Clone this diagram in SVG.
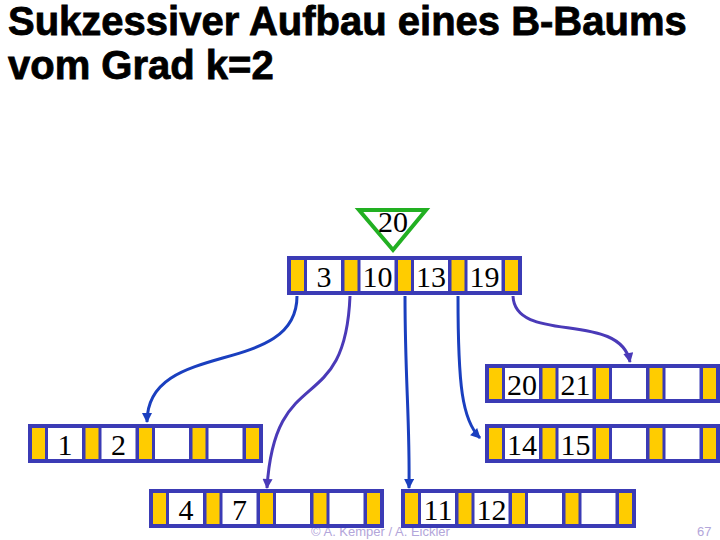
<svg xmlns="http://www.w3.org/2000/svg" width="720" height="540" viewBox="0 0 720 540">
<style>
.frame{fill:#3b3bb5}
.slot{fill:#ffcc00}
.box{fill:#ffffff}
.key{font-family:"Liberation Serif","Times New Roman",serif;font-size:30px;fill:#000;text-anchor:middle}
.title{font-family:"Liberation Sans",Arial,sans-serif;font-weight:bold;font-size:40px;fill:#000;stroke:#000;stroke-width:0.8}
.foot{font-family:"Liberation Sans",Arial,sans-serif;font-size:13px;fill:#b3a6da}
.c1{fill:none;stroke:#1a3fbf;stroke-width:3}
.c2{fill:none;stroke:#4a3ab8;stroke-width:3}
</style>
<defs>
<marker id="ah1" viewBox="0 0 10 10" refX="9" refY="5" markerWidth="11" markerHeight="10" markerUnits="userSpaceOnUse" orient="auto"><path d="M0,0 L10,5 L0,10 z" fill="#1a3fbf"/></marker>
<marker id="ah2" viewBox="0 0 10 10" refX="9" refY="5" markerWidth="11" markerHeight="10" markerUnits="userSpaceOnUse" orient="auto"><path d="M0,0 L10,5 L0,10 z" fill="#4a3ab8"/></marker>
<g id="nodeShape">
<rect class="frame" x="0" y="0" width="235" height="39"/>
<rect class="slot" x="4" y="4" width="13" height="31"/>
<rect class="box" x="20" y="4" width="34" height="31"/>
<rect class="slot" x="57.5" y="4" width="13" height="31"/>
<rect class="box" x="73.5" y="4" width="34" height="31"/>
<rect class="slot" x="111" y="4" width="13" height="31"/>
<rect class="box" x="127" y="4" width="34" height="31"/>
<rect class="slot" x="164.5" y="4" width="13" height="31"/>
<rect class="box" x="180.5" y="4" width="34" height="31"/>
<rect class="slot" x="218" y="4" width="13" height="31"/>
</g>
</defs>
<rect x="0" y="0" width="720" height="540" fill="#ffffff"/>
<text class="title" x="8" y="35">Sukzessiver Aufbau eines B-Baums</text>
<text class="title" x="8" y="79">vom Grad k=2</text>
<text class="foot" x="311" y="536">© A. Kemper / A. Eickler</text>
<text class="foot" x="697" y="536">67</text>
<g id="connectors">
<path class="c1" d="M297,296 C297,378 147,338 147,422" marker-end="url(#ah1)"/>
<path class="c2" d="M350,296 C345,420 275,360 267,488" marker-end="url(#ah2)"/>
<path class="c1" d="M405,296 C405,380 410,420 409,488" marker-end="url(#ah1)"/>
<path class="c1" d="M458,296 C458,385 462,420 480,438" marker-end="url(#ah1)"/>
<path class="c2" d="M513,296 C515,345 620,310 630,362" marker-end="url(#ah2)"/>
</g>
<g id="root" transform="translate(287,256)">
<use href="#nodeShape"/>
<text class="key" x="37" y="31">3</text>
<text class="key" x="90.5" y="31">10</text>
<text class="key" x="144" y="31">13</text>
<text class="key" x="197.5" y="31">19</text>
</g>
<g id="split">
<path d="M359,210 L426,210 L393,250 z" fill="none" stroke="#22b022" stroke-width="4" stroke-linejoin="miter"/>
<text class="key" x="393" y="232">20</text>
</g>
<g id="node2021" transform="translate(485,364)">
<use href="#nodeShape"/>
<text class="key" x="37" y="31">20</text>
<text class="key" x="90.5" y="31">21</text>
</g>
<g id="node1415" transform="translate(485,424)">
<use href="#nodeShape"/>
<text class="key" x="37" y="31">14</text>
<text class="key" x="90.5" y="31">15</text>
</g>
<g id="node12" transform="translate(28,424)">
<use href="#nodeShape"/>
<text class="key" x="37" y="31">1</text>
<text class="key" x="90.5" y="31">2</text>
</g>
<g id="node47" transform="translate(149,489)">
<use href="#nodeShape"/>
<text class="key" x="37" y="31">4</text>
<text class="key" x="90.5" y="31">7</text>
</g>
<g id="node1112" transform="translate(401,489)">
<use href="#nodeShape"/>
<text class="key" x="37" y="31">11</text>
<text class="key" x="90.5" y="31">12</text>
</g>
</svg>
